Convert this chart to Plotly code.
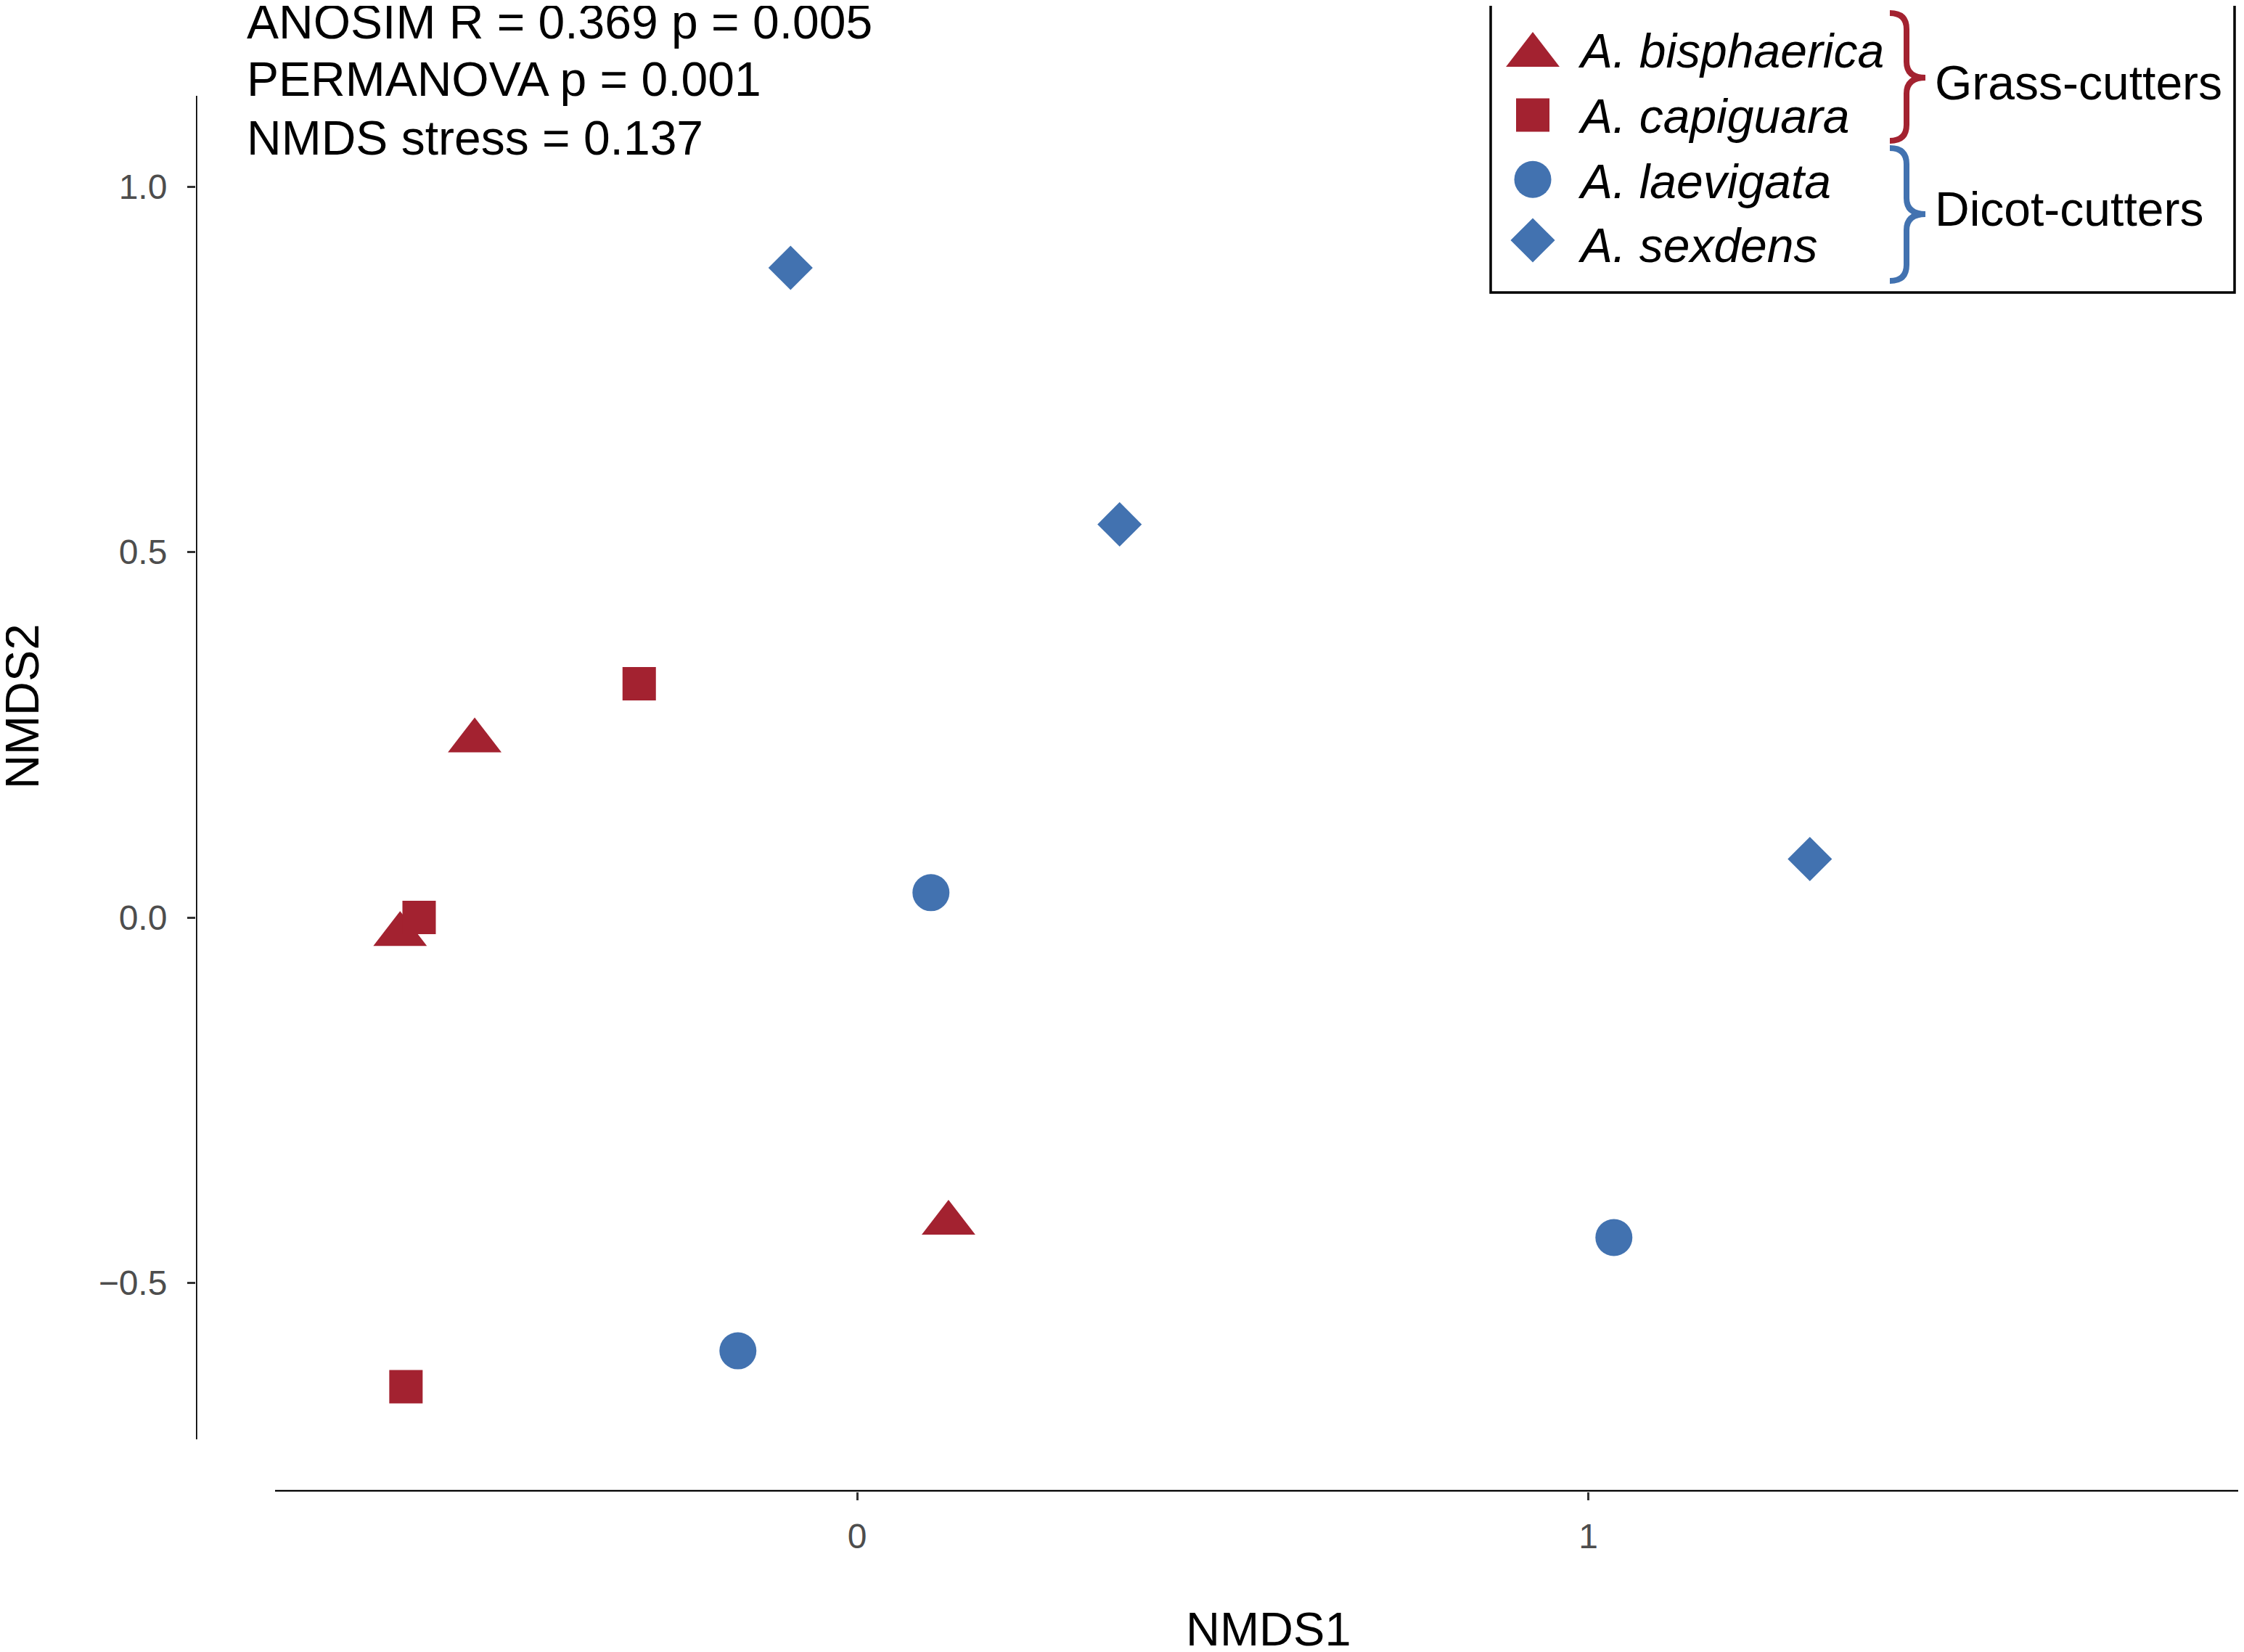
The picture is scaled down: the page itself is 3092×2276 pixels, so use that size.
import plotly.graph_objects as go

# browser body has an 8px margin, so the figure is drawn 8px in and shrunk to fit
OFF = 8
FW, FH = 3092 - 2 * OFF, 2276 - 2 * OFF
FONT = "Liberation Sans, Arial, Helvetica, sans-serif"
RED = "#A32230"
BLUE = "#4272B0"

# NMDS scores
species = ["A. bisphaerica", "A. capiguara", "A. laevigata", "A. sexdens"]
nmds1_bisphaerica = [-0.523, -0.625, 0.125]
nmds2_bisphaerica = [0.242, -0.023, -0.418]
nmds1_capiguara = [-0.298, -0.599, -0.617]
nmds2_capiguara = [0.320, 0.000, -0.642]
nmds1_laevigata = [0.101, -0.163, 1.035]
nmds2_laevigata = [0.034, -0.593, -0.438]
nmds1_sexdens = [-0.091, 0.359, 1.303]
nmds2_sexdens = [0.889, 0.538, 0.080]

groups = ["Grass-cutters", "Dicot-cutters"]
stats_lines = ["ANOSIM R = 0.369 p = 0.005", "PERMANOVA p = 0.001", "NMDS stress = 0.137"]

x_ticks = [0, 1]
x_ticktext = ["0", "1"]
y_ticks = [-0.5, 0.0, 0.5, 1.0]
y_ticktext = ["\u22120.5", "0.0", "0.5", "1.0"]

symbols = ["triangle-up", "square", "circle", "diamond"]
colors = [RED, RED, BLUE, BLUE]
sizes = [64, 46, 51, 47]

xs = [nmds1_bisphaerica, nmds1_capiguara, nmds1_laevigata, nmds1_sexdens]
ys = [nmds2_bisphaerica, nmds2_capiguara, nmds2_laevigata, nmds2_sexdens]


def px(x, y):
    # page pixel -> paper fraction
    return (x - OFF) / FW, 1 - (y - OFF) / FH


fig = go.Figure()
for i in range(len(species)):
    fig.add_trace(go.Scatter(
        x=xs[i], y=ys[i], mode="markers", name=species[i],
        marker=dict(symbol=symbols[i], color=colors[i], size=sizes[i], opacity=1, line=dict(width=0)),
        showlegend=False, hoverinfo="skip", xaxis="x", yaxis="y"))

# legend keys drawn on a hidden pixel-sized overlay axis
leg_y = [76, 158.5, 247.3, 331]
fig.add_trace(go.Scatter(
    x=[2112] * 4, y=leg_y, mode="markers",
    marker=dict(symbol=symbols, color=colors, size=sizes, opacity=1, line=dict(width=0)),
    showlegend=False, hoverinfo="skip", xaxis="x2", yaxis="y2"))

XR = [-0.9042, 1.8888]
YR = [-0.7856, 1.2456]

shapes = []
# capped axis lines
shapes.append(dict(type="line", xref="x", yref="y", x0=-0.796, x1=XR[1], y0=YR[0], y1=YR[0],
                   line=dict(color="black", width=4.5)))
shapes.append(dict(type="line", xref="x", yref="y", x0=XR[0], x1=XR[0], y0=-0.714, y1=1.1244,
                   line=dict(color="black", width=3.5)))

# legend box
x0, y0 = px(2054, 6)
x1, y1 = px(3079, 403)
shapes.append(dict(type="rect", xref="paper", yref="paper", x0=x0, x1=x1, y0=y1, y1=y0,
                   line=dict(color="black", width=3.5), layer="below"))


def brace(x_end, x_mid, x_tip, y_top, y_tip, y_bot, r=22):
    pts = [("M", [(x_end, y_top)]),
           ("Q", [(x_mid, y_top), (x_mid, y_top + r)]),
           ("L", [(x_mid, y_tip - r)]),
           ("Q", [(x_mid, y_tip), (x_tip, y_tip)]),
           ("Q", [(x_mid, y_tip), (x_mid, y_tip + r)]),
           ("L", [(x_mid, y_bot - r)]),
           ("Q", [(x_mid, y_bot), (x_end, y_bot)])]
    s = ""
    for cmd, pp in pts:
        s += cmd + " ".join("%.5f,%.5f" % px(a, b) for a, b in pp) + " "
    return s.strip()


shapes.append(dict(type="path", xref="paper", yref="paper",
                   path=brace(2604, 2627, 2653, 18, 107, 194), line=dict(color=RED, width=8)))
shapes.append(dict(type="path", xref="paper", yref="paper",
                   path=brace(2604, 2627, 2653, 204, 295, 387), line=dict(color=BLUE, width=8)))

annotations = []
for i, t in enumerate(stats_lines):
    ax_, ay_ = px(338, [30, 109, 190][i])
    annotations.append(dict(text=t, x=ax_, y=ay_, xref="paper", yref="paper", xanchor="left",
                            yanchor="middle", showarrow=False, font=dict(size=66, color="black", family=FONT)))
for i, t in enumerate(species):
    ax_, ay_ = px(2172, [70, 160, 250, 338][i])
    annotations.append(dict(text="<i>" + t + "</i>", x=ax_, y=ay_, xref="paper", yref="paper",
                            xanchor="left", yanchor="middle", showarrow=False,
                            font=dict(size=66, color="black", family=FONT)))
for i, t in enumerate(groups):
    ax_, ay_ = px(2664, [114, 288][i])
    annotations.append(dict(text=t, x=ax_, y=ay_, xref="paper", yref="paper", xanchor="left",
                            yanchor="middle", showarrow=False, font=dict(size=66, color="black", family=FONT)))

# axis titles
ax_, ay_ = px(1748, 2244)
annotations.append(dict(text="NMDS1", x=ax_, y=ay_, xref="paper", yref="paper", xanchor="center",
                        yanchor="middle", showarrow=False, font=dict(size=65, color="black", family=FONT)))
ax_, ay_ = px(30, 973)
annotations.append(dict(text="NMDS2", x=ax_, y=ay_, xref="paper", yref="paper", xanchor="center",
                        yanchor="middle", textangle=-90, showarrow=False,
                        font=dict(size=65, color="black", family=FONT)))

fig.update_layout(
    width=FW, height=FH,
    margin=dict(l=0, r=0, t=0, b=0),
    paper_bgcolor="white", plot_bgcolor="rgba(0,0,0,0)",
    showlegend=False,
    xaxis=dict(domain=[px(270, 0)[0], px(3084, 0)[0]], range=XR, anchor="y",
               tickvals=x_ticks, ticktext=x_ticktext, ticks="outside", ticklen=11, tickwidth=2.5,
               tickcolor="#333333", showline=False, showgrid=False, zeroline=False,
               ticklabelstandoff=8,
               tickfont=dict(size=48, color="#4D4D4D", family=FONT), automargin=False),
    yaxis=dict(domain=[px(0, 2055)[1], px(0, 10)[1]], range=YR, anchor="x",
               tickvals=y_ticks, ticktext=y_ticktext, ticks="outside", ticklen=11, tickwidth=2.5,
               tickcolor="#333333", showline=False, showgrid=False, zeroline=False,
               ticklabelstandoff=18,
               tickfont=dict(size=48, color="#4D4D4D", family=FONT), automargin=False),
    xaxis2=dict(domain=[0, 1], range=[OFF, OFF + FW], anchor="y2", visible=False, fixedrange=True),
    yaxis2=dict(domain=[0, 1], range=[OFF + FH, OFF], anchor="x2", visible=False, fixedrange=True),
    shapes=shapes,
    annotations=annotations,
)

fig.write_html("out.html")
